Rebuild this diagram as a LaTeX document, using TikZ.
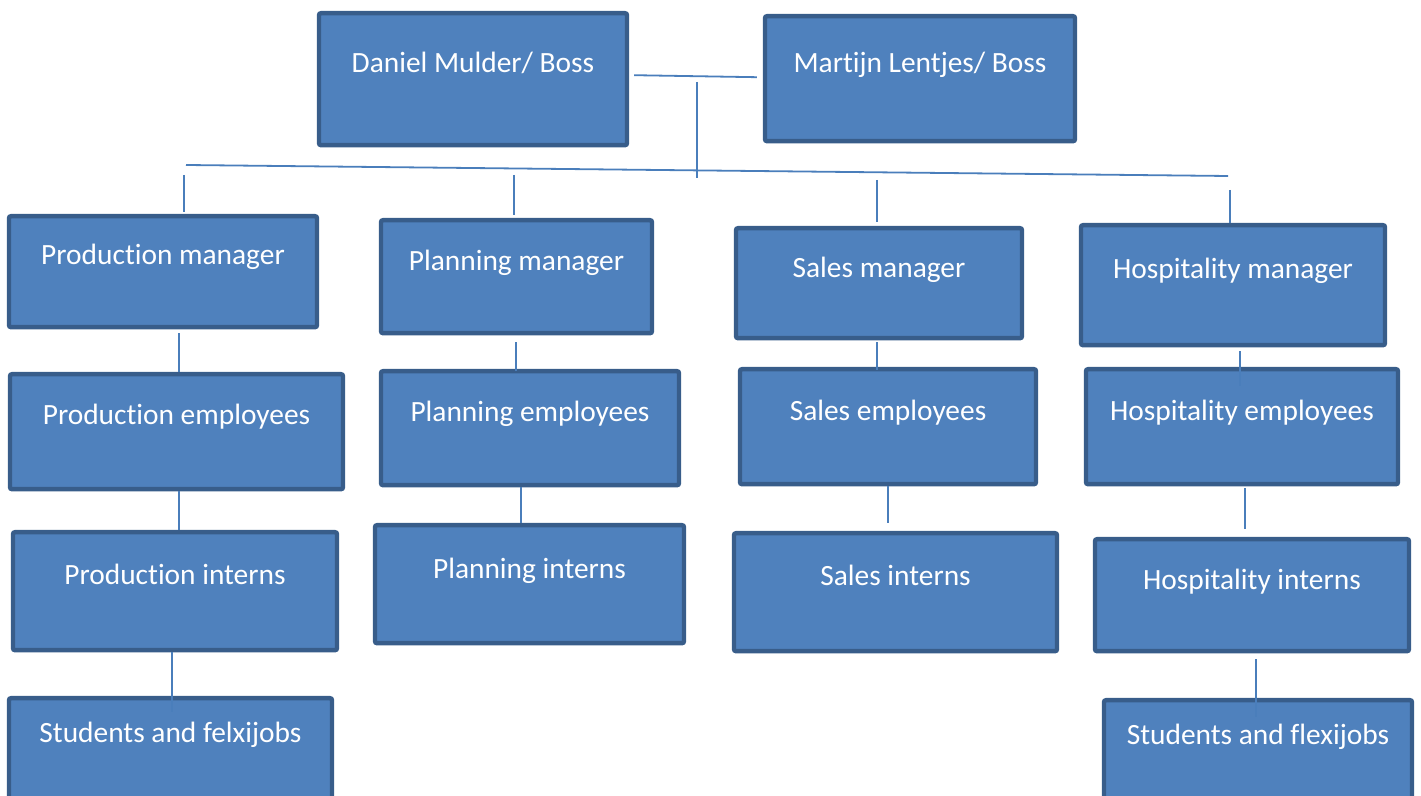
\documentclass[tikz,border=0pt]{standalone}
\usepackage{fontspec}
\setmainfont{Carlito}[Ligatures=NoCommon]
\definecolor{unitfill}{HTML}{4F81BD}
\definecolor{unitedge}{HTML}{385D8A}
\definecolor{linkline}{HTML}{4A7EBB}

% box: name, x1, y1, x2, y2, baseline, text (pixel units)
\newcommand{\orgunit}[7]{%
  \pgfmathsetlengthmacro\unitw{(#4-#2)*0.5pt}%
  \pgfmathsetlengthmacro\unith{(#6-#3)*0.5pt}%
  \pgfmathsetlengthmacro\unitd{(#5-#6)*0.5pt}%
  \node[unit, minimum width=\unitw, text height=\unith, text depth=\unitd] (#1) at ({(#2+#4)/2},#3) {#7};}

\begin{document}
\begin{tikzpicture}[x=0.5pt, y=-0.5pt,
    unit/.style={rectangle, draw=unitedge, fill=unitfill, line width=2.2pt, rounded corners=1pt,
      text=white, font=\fontsize{14.7}{17}\selectfont, inner sep=0pt, anchor=north},
    link/.style={draw=linkline, line width=0.9pt}]
  \useasboundingbox (0,0) rectangle (1421,796);

  % Bosses
  \orgunit{dm}{319}{11}{627}{143}{70}{Daniel Mulder/ Boss}
  \orgunit{mj}{765}{14}{1075}{139}{70}{Martijn Lentjes/ Boss}

  % Managers
  \orgunit{pm}{9}{214}{317}{325}{262}{Production manager}
  \orgunit{plm}{381}{218}{652}{331}{268}{Planning manager}
  \orgunit{sm}{736}{226}{1022}{336}{275}{Sales manager}
  \orgunit{hm}{1081}{223}{1385}{343}{276}{Hospitality manager}

  % Employees
  \orgunit{pe}{10}{372}{343}{487}{422}{Production employees}
  \orgunit{ple}{381}{369}{679}{483}{419}{Planning employees}
  \orgunit{se}{740}{367}{1036}{482}{418}{Sales employees}
  \orgunit{he}{1086}{367}{1398}{482}{418}{Hospitality employees}

  % Interns
  \orgunit{pi}{13}{530}{337}{648}{582}{Production interns}
  \orgunit{pli}{375}{523}{684}{641}{576}{Planning interns}
  \orgunit{si}{734}{531}{1057}{649}{583}{Sales interns}
  \orgunit{hi}{1095}{537}{1409}{649}{587}{Hospitality interns}

  % Students
  \orgunit{ps}{9}{696}{332}{830}{740}{Students and felxijobs}
  \orgunit{hs}{1104}{698}{1412}{830}{742}{Students and flexijobs}

  % Top connections
  \draw[link] ([xshift=2.5pt,yshift=2pt]dm.east) -- ([xshift=-3pt,yshift=0.75pt]mj.west);
  \coordinate (joint) at (697,82);
  \coordinate (hub) at (697,178);
  \draw[link] (joint) -- (hub);
  \coordinate (rail w) at (186,165);
  \coordinate (rail e) at (1228,176);
  \draw[link] (rail w) -- (rail e);

  % Drops to the managers
  \coordinate (drop p) at (184,175);
  \coordinate (drop pl) at (514,175);
  \coordinate (drop s) at (877,180);
  \coordinate (drop h) at (1230,190);
  \draw[link] (drop p) -- ([yshift=1pt]drop p |- pm.north);
  \draw[link] (drop pl) -- ([yshift=1.5pt]drop pl |- plm.north);
  \draw[link] (drop s) -- ([yshift=2pt]drop s |- sm.north);
  \draw[link] (drop h) -- (drop h |- hm.north);

  % Production column
  \draw[link] ([yshift=-2pt]pm.south -| 179,0) -- (pe.north -| 179,0);
  \draw[link] (pe.south -| 179,0) -- (pi.north -| 179,0);
  \draw[link] (pi.south -| 172,0) -- ([yshift=-8pt]ps.north -| 172,0);

  % Planning column
  \draw[link] ([yshift=-3.5pt]plm.south -| 516,0) -- ([yshift=-1pt]ple.north -| 516,0);
  \draw[link] (ple.south -| 521,0) -- (pli.north -| 521,0);

  % Sales column
  \draw[link] ([yshift=-1pt]sm.south -| 877,0) -- ([yshift=-1.5pt]se.north -| 877,0);
  \draw[link] (se.south -| 888,0) -- ([yshift=4pt]si.north -| 888,0);

  % Hospitality column
  \draw[link] ([yshift=-2pt]hm.south -| 1240,0) -- ([yshift=-9.5pt]he.north -| 1240,0);
  \draw[link] ([yshift=-1pt]he.south -| 1245,0) -- ([yshift=4pt]hi.north -| 1245,0);
  \draw[link] ([yshift=-3pt]hi.south -| 1256,0) -- ([yshift=-9.5pt]hs.north -| 1256,0);
\end{tikzpicture}
\end{document}
